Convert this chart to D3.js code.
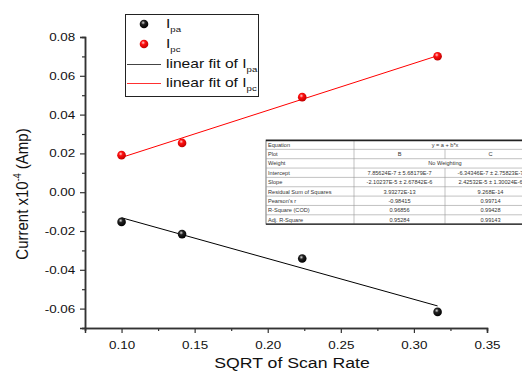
<!DOCTYPE html>
<html>
<head>
<meta charset="utf-8">
<script src="https://cdn.jsdelivr.net/npm/d3@7"></script>
<style>
  body { margin: 0; background: #fff; }
  svg { display: block; font-family: "Liberation Sans", Arial, sans-serif; }
</style>
</head>
<body>
<div id="chart"></div>
<script>
// data
var scanRateSqrt = [0.1, 0.1414, 0.2236, 0.3162];
var ipa = [-0.0153, -0.0216, -0.0342, -0.0617];
var ipc = [0.0191, 0.0254, 0.0490, 0.0701];

// fit coefficients from the table (Amp), plotted in units of 1e-4 Amp
var fitIntercept = { pa: 7.85624e-7, pc: -6.34346e-7 };
var fitSlope = { pa: -2.10237e-5, pc: 2.42532e-5 };
var yUnit = 1e-4;

var xTicks = [0.10, 0.15, 0.20, 0.25, 0.30, 0.35];
var xMinor = [0.075, 0.125, 0.175, 0.225, 0.275, 0.325];
var yTicks = [-0.06, -0.04, -0.02, 0.00, 0.02, 0.04, 0.06, 0.08];
var yMinor = [-0.07, -0.05, -0.03, -0.01, 0.01, 0.03, 0.05, 0.07];

var tableRows = [
  ["Equation", "y = a + b*x"],
  ["Plot", "B", "C"],
  ["Weight", "No Weighting"],
  ["Intercept", "7.85624E-7 \u00b1 5.68179E-7", "-6.34346E-7 \u00b1 2.75823E-7"],
  ["Slope", "-2.10237E-5 \u00b1 2.67842E-6", "2.42532E-5 \u00b1 1.30024E-6"],
  ["Residual Sum of Squares", "3.93272E-13", "9.268E-14"],
  ["Pearson's r", "-0.98415", "0.99714"],
  ["R-Square (COD)", "0.96856", "0.99428"],
  ["Adj. R-Square", "0.95284", "0.99143"]
];

var W = 522, H = 372;
var sx = 1.22; // the picture's text is stretched sideways
var svg = d3.select("#chart").append("svg")
  .attr("width", W).attr("height", H);

var x = d3.scaleLinear().domain([0.075, 0.35]).range([85, 487]);
var y = d3.scaleLinear().domain([-0.07, 0.08]).range([328, 37]);

// gradients for the ball markers
var defs = svg.append("defs");
function ball(id, c0, c1, c2) {
  var g = defs.append("radialGradient").attr("id", id)
    .attr("cx", "40%").attr("cy", "35%").attr("r", "65%");
  g.append("stop").attr("offset", "0%").attr("stop-color", c0);
  g.append("stop").attr("offset", "35%").attr("stop-color", c1);
  g.append("stop").attr("offset", "100%").attr("stop-color", c2);
}
ball("ballBlack", "#d8d8d8", "#222", "#000");
ball("ballRed", "#ffd0d0", "#ff1010", "#c00000");

var fmt = function (d) { return d3.format(".2f")(d).replace("\u2212", "-"); };

// axes
var axisColor = "#333";
var xAxis = svg.append("g").attr("transform", "translate(0," + y.range()[0] + ")");
xAxis.call(d3.axisBottom(x).tickValues(xTicks).tickSize(5).tickFormat(fmt));
xAxis.append("g").call(d3.axisBottom(x).tickValues(xMinor).tickSize(3).tickFormat(""));

var yAxis = svg.append("g").attr("transform", "translate(" + x.range()[0] + ",0)");
yAxis.call(d3.axisLeft(y).tickValues(yTicks).tickSize(5).tickFormat(fmt));
yAxis.append("g").call(d3.axisLeft(y).tickValues(yMinor).tickSize(3).tickFormat(""));

svg.selectAll(".domain").attr("stroke", axisColor).attr("stroke-width", 1.5);
svg.selectAll(".tick line").attr("stroke", axisColor).attr("stroke-width", 1.2);
svg.selectAll(".tick text").attr("font-size", 11).attr("fill", "#111")
  .attr("font-family", "Liberation Sans, Arial, sans-serif")
  .attr("transform", "scale(" + sx + ",1)");
xAxis.selectAll(".tick text").attr("y", 13.5);
yAxis.selectAll(".tick text").attr("x", -8);

// axis titles
svg.append("text")
  .attr("transform", "translate(292,368) scale(" + sx + ",1)")
  .attr("text-anchor", "middle").attr("font-size", 14.5).attr("fill", "#111")
  .text("SQRT of Scan Rate");

var yt = svg.append("text")
  .attr("transform", "translate(28,194) rotate(-90) scale(1," + 1.15 + ")")
  .attr("text-anchor", "middle").attr("font-size", 15).attr("fill", "#111");
yt.append("tspan").text("Current x10");
yt.append("tspan").attr("font-size", 9).attr("dy", -6).text("-4");
yt.append("tspan").attr("dy", 6).text(" (Amp)");

// fit lines
var xFit = [scanRateSqrt[0], scanRateSqrt[scanRateSqrt.length - 1]];
function fitPts(k) {
  return xFit.map(function (v) { return [v, (fitIntercept[k] + fitSlope[k] * v) / yUnit]; });
}
var line = d3.line().x(function (d) { return x(d[0]); }).y(function (d) { return y(d[1]); });
svg.append("path").datum(fitPts("pa")).attr("d", line)
  .attr("fill", "none").attr("stroke", "#000").attr("stroke-width", 1);
svg.append("path").datum(fitPts("pc")).attr("d", line)
  .attr("fill", "none").attr("stroke", "#ff0000").attr("stroke-width", 1);

// points
svg.selectAll(".pa").data(scanRateSqrt).enter().append("circle")
  .attr("cx", function (d) { return x(d); })
  .attr("cy", function (d, i) { return y(ipa[i]); })
  .attr("r", 4.3).attr("fill", "url(#ballBlack)");
svg.selectAll(".pc").data(scanRateSqrt).enter().append("circle")
  .attr("cx", function (d) { return x(d); })
  .attr("cy", function (d, i) { return y(ipc[i]); })
  .attr("r", 4.3).attr("fill", "url(#ballRed)");

// legend
var lg = svg.append("g");
lg.append("rect").attr("x", 125.5).attr("y", 14.5).attr("width", 133).attr("height", 82)
  .attr("fill", "#fff").attr("stroke", "#222").attr("stroke-width", 1);
function legendText(yy, label, sub) {
  var t = lg.append("text")
    .attr("transform", "translate(166," + yy + ") scale(1.2,1)")
    .attr("font-size", 13).attr("fill", "#111");
  t.append("tspan").text(label);
  t.append("tspan").attr("font-size", 8).attr("dy", 4).text(sub);
}
lg.append("circle").attr("cx", 144).attr("cy", 24).attr("r", 4.3).attr("fill", "url(#ballBlack)");
legendText(28, "I", "pa");
lg.append("circle").attr("cx", 144).attr("cy", 44).attr("r", 4.3).attr("fill", "url(#ballRed)");
legendText(48, "I", "pc");
lg.append("line").attr("x1", 127).attr("x2", 161).attr("y1", 64.5).attr("y2", 64.5)
  .attr("stroke", "#444").attr("stroke-width", 1.2);
legendText(68, "linear fit of I", "pa");
lg.append("line").attr("x1", 127).attr("x2", 161).attr("y1", 83.5).attr("y2", 83.5)
  .attr("stroke", "#ff3030").attr("stroke-width", 1);
legendText(87, "linear fit of I", "pc");

// fit table
var tb = svg.append("g").attr("font-size", 5.6).attr("fill", "#333");
var tx0 = 266, tx1 = 354, tx2 = 445, tx3 = 536, ty0 = 140, rh = 9.35;
tb.append("rect").attr("x", tx0).attr("y", ty0).attr("width", tx3 - tx0).attr("height", rh * tableRows.length)
  .attr("fill", "#fff").attr("stroke", "#555").attr("stroke-width", 0.8);
tableRows.forEach(function (row, i) {
  var yy = ty0 + rh * i;
  if (i > 0) {
    tb.append("line").attr("x1", tx0).attr("x2", tx3).attr("y1", yy).attr("y2", yy)
      .attr("stroke", "#999").attr("stroke-width", 0.6);
  }
  tb.append("text").attr("x", tx0 + 2).attr("y", yy + rh - 2.6).text(row[0]);
  if (row.length === 2) {
    tb.append("text").attr("x", (tx1 + tx3) / 2).attr("y", yy + rh - 2.6)
      .attr("text-anchor", "middle").text(row[1]);
  } else {
    tb.append("text").attr("x", (tx1 + tx2) / 2).attr("y", yy + rh - 2.6)
      .attr("text-anchor", "middle").text(row[1]);
    tb.append("text").attr("x", (tx2 + tx3) / 2).attr("y", yy + rh - 2.6)
      .attr("text-anchor", "middle").text(row[2]);
    tb.append("line").attr("x1", tx2).attr("x2", tx2).attr("y1", yy).attr("y2", yy + rh)
      .attr("stroke", "#999").attr("stroke-width", 0.6);
  }
});
tb.append("line").attr("x1", tx1).attr("x2", tx1).attr("y1", ty0).attr("y2", ty0 + rh * tableRows.length)
  .attr("stroke", "#999").attr("stroke-width", 0.6);
tb.append("line").attr("x1", tx0).attr("x2", tx3).attr("y1", ty0 + 0.5).attr("y2", ty0 + 0.5)
  .attr("stroke", "#222").attr("stroke-width", 1.4);
tb.append("line").attr("x1", tx0).attr("x2", tx3)
  .attr("y1", ty0 + rh * tableRows.length).attr("y2", ty0 + rh * tableRows.length)
  .attr("stroke", "#222").attr("stroke-width", 1.4);
</script>
</body>
</html>
